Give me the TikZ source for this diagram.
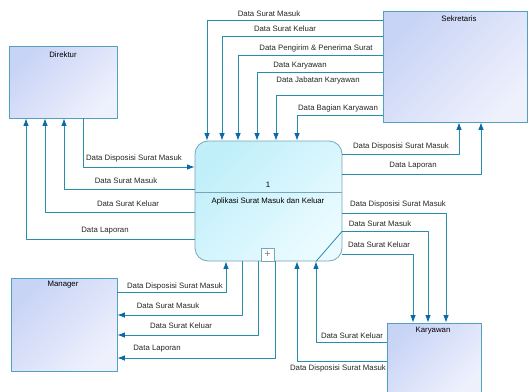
\documentclass[tikz,border=0pt]{standalone}
\usepackage{fontspec}
\setmainfont{Liberation Sans}
\usetikzlibrary{arrows.meta}
\definecolor{garis}{RGB}{40,140,170}
\definecolor{panah}{RGB}{10,105,170}
\definecolor{tepi}{RGB}{80,160,190}
\definecolor{entA}{RGB}{200,212,246}
\definecolor{entB}{RGB}{238,240,252}
\definecolor{proA}{RGB}{192,239,250}
\definecolor{proB}{RGB}{234,251,255}
\definecolor{tepiP}{RGB}{120,165,185}
\begin{document}
\begin{tikzpicture}[x=1pt, y=-1pt, line width=0.8pt, line join=round,
  font=\fontsize{7.8}{9}\selectfont,
  entitas/.style={draw=tepi, top color=entA, bottom color=entB, shading angle=45, inner sep=0pt},
  proses/.style={draw=tepiP, top color=proA, bottom color=proB, shading angle=45, rounded corners=13pt, inner sep=0pt},
  aliran/.style={draw=garis, -{Latex[length=7.5pt,width=5.5pt,color=panah]}},
  ket/.style={inner sep=0pt, text=black!85}]
  \useasboundingbox (0,0) rectangle (529,391);
  % Entitas luar dan proses
  \node[entitas, minimum width=108pt, minimum height=72pt] (direktur) at (63,82) {};
  \node[entitas, minimum width=144pt, minimum height=111pt] (sekretaris) at (455,66.5) {};
  \node[entitas, minimum width=106pt, minimum height=93pt] (manager) at (64,324.5) {};
  \node[entitas, minimum width=94pt, minimum height=70pt] (karyawan) at (434,358) {};
  \node[proses, minimum width=147pt, minimum height=120pt] (proses) at (268.5,201) {};
  \draw[tepiP] (proses.west |- 0,192) -- (proses.east |- 0,192);
  \node[draw=tepiP, fill=white, text=black!50, font=\fontsize{11}{11}\selectfont, minimum size=13pt, inner sep=0pt] (plus) at (267.5,254.5) {+};
  \node (tDirektur) at (63,55) {Direktur};
  \node (tSekretaris) at (459,19) {Sekretaris};
  \node (tManager) at (63,285) {Manager};
  \node (tKaryawan) at (433,331) {Karyawan};
  \node (tNomor) at (268,185) {1};
  \node (tProses) at (268,201) {Aplikasi Surat Masuk dan Keluar};
  % Sekretaris ke proses
  \draw[aliran] (sekretaris.west |- 0,20) -| (proses.north -| 207,0);
  \draw[aliran] (sekretaris.west |- 0,36) -| (proses.north -| 222,0);
  \draw[aliran] (sekretaris.west |- 0,55) -| (proses.north -| 238,0);
  \draw[aliran] (sekretaris.west |- 0,72) -| (proses.north -| 257,0);
  \draw[aliran] (sekretaris.west |- 0,95) -| (proses.north -| 276,0);
  \draw[aliran] (sekretaris.west |- 0,115) -| (proses.north -| 297,0);
  \node[ket] (k1) at (269,14) {Data Surat Masuk};
  \node[ket] (k2) at (285,29) {Data Surat Keluar};
  \node[ket] (k3) at (316,48) {Data Pengirim \& Penerima Surat};
  \node[ket] (k4) at (300,66) {Data Karyawan};
  \node[ket] (k5) at (318,80) {Data Jabatan Karyawan};
  \node[ket] (k6) at (338,108) {Data Bagian Karyawan};
  % Proses ke sekretaris
  \draw[aliran] (proses.east |- 0,154) -| (sekretaris.south -| 459,0);
  \draw[aliran] (proses.east |- 0,174) -| (sekretaris.south -| 481,0);
  \node[ket] (k7) at (401,146) {Data Disposisi Surat Masuk};
  \node[ket] (k8) at (413,166) {Data Laporan};
  % Direktur
  \draw[aliran] (direktur.south -| 83,0) |- (proses.west |- 0,167);
  \draw[aliran] (proses.west |- 0,189) -| (direktur.south -| 64,0);
  \draw[aliran] (proses.west |- 0,212) -| (direktur.south -| 45,0);
  \draw[aliran] (proses.west |- 0,239) -| (direktur.south -| 26,0);
  \node[ket] (k9) at (134,158) {Data Disposisi Surat Masuk};
  \node[ket] (k10) at (126,181) {Data Surat Masuk};
  \node[ket] (k11) at (128,204) {Data Surat Keluar};
  \node[ket] (k12) at (105,231) {Data Laporan};
  % Manager
  \draw[aliran] (manager.east |- 0,292) -| (proses.south -| 226,0);
  \draw[aliran] (proses.south -| 242,0) |- (manager.east |- 0,315);
  \draw[aliran] (proses.south -| 258,0) |- (manager.east |- 0,335);
  \draw[aliran] (proses.south -| 275,0) |- (manager.east |- 0,358);
  \node[ket] (k13) at (175,286) {Data Disposisi Surat Masuk};
  \node[ket] (k14) at (168,306) {Data Surat Masuk};
  \node[ket] (k15) at (181,326) {Data Surat Keluar};
  \node[ket] (k16) at (157,349) {Data Laporan};
  % Karyawan
  \draw[aliran] (proses.east |- 0,213) -| (karyawan.north -| 446,0);
  \draw[aliran] (proses.east |- 0,231) -| (karyawan.north -| 428,0);
  \draw[aliran] (proses.east |- 0,254) -| (karyawan.north -| 413,0);
  \draw[garis] (proses.east |- 0,231) -- (proses.south -| 316,0);
  \draw[aliran] (karyawan.west |- 0,342) -| (proses.south -| 316,0);
  \draw[aliran] (karyawan.west |- 0,361) -| (proses.south -| 297,0);
  \node[ket] (k17) at (398,204) {Data Disposisi Surat Masuk};
  \node[ket] (k18) at (380,224) {Data Surat Masuk};
  \node[ket] (k19) at (379,245) {Data Surat Keluar};
  \node[ket] (k20) at (352,336) {Data Surat Keluar};
  \node[ket] (k21) at (338,368) {Data Disposisi Surat Masuk};
\end{tikzpicture}
\end{document}
